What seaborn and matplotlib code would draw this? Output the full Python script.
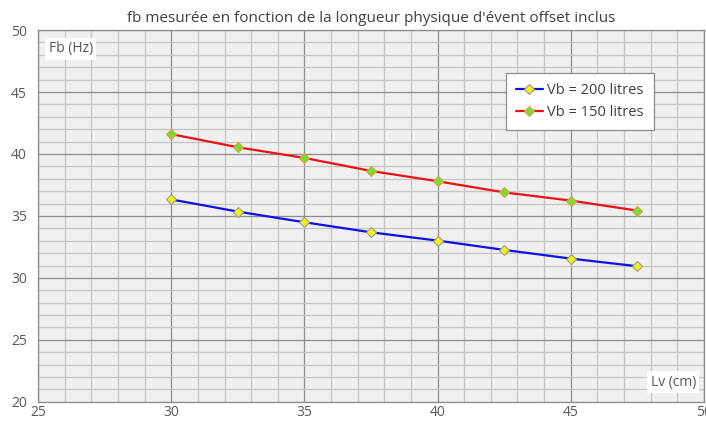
import matplotlib
matplotlib.use("Agg")
import matplotlib.pyplot as plt
from matplotlib.ticker import MultipleLocator
import seaborn as sns
import pandas as pd

# longueur d'évent (cm)
lv = [30, 32.5, 35, 37.5, 40, 42.5, 45, 47.5]
# fb mesurée (Hz)
fb_200 = [36.33, 35.35, 34.49, 33.68, 33.01, 32.26, 31.56, 30.94]
fb_150 = [41.6, 40.54, 39.68, 38.63, 37.8, 36.9, 36.24, 35.43]
labels = ["Vb = 200 litres", "Vb = 150 litres"]

sns.set_style("white")
plt.rcParams["font.family"] = ["Open Sans", "DejaVu Sans"]

fig = plt.figure(figsize=(7.06, 4.23), dpi=100)
ax = fig.add_axes([0.054, 0.05, 0.943, 0.879])
ax.set_facecolor("#f0f0f0")

df200 = pd.DataFrame({"lv": lv, "fb": fb_200})
df150 = pd.DataFrame({"lv": lv, "fb": fb_150})

sns.lineplot(data=df200, x="lv", y="fb", ax=ax, color="#1010e0", lw=1.6,
             marker="D", markersize=5.5, markerfacecolor="#f2f20a",
             markeredgecolor="#9a9a9a", markeredgewidth=0.8, label=labels[0], zorder=5)
sns.lineplot(data=df150, x="lv", y="fb", ax=ax, color="#ee1111", lw=1.6,
             marker="D", markersize=5.5, markerfacecolor="#77dd33",
             markeredgecolor="#e0a040", markeredgewidth=0.8, label=labels[1], zorder=5)

ax.set_xlim(25, 50)
ax.set_ylim(20, 50)
ax.xaxis.set_major_locator(MultipleLocator(5))
ax.xaxis.set_minor_locator(MultipleLocator(1))
ax.yaxis.set_major_locator(MultipleLocator(5))
ax.yaxis.set_minor_locator(MultipleLocator(1))
ax.grid(which="major", color="#8c8c8c", lw=0.9)
ax.grid(which="minor", color="#c4c4c4", lw=0.9)
ax.set_axisbelow(True)

ax.tick_params(which="both", length=0, labelsize=10, labelcolor="#595959")
ax.tick_params(axis="x", pad=2)
ax.tick_params(axis="y", pad=8)
ax.set_xlabel("")
ax.set_ylabel("")
for s in ax.spines.values():
    s.set_color("#8c8c8c")
    s.set_linewidth(0.9)

ax.set_title("fb mesurée en fonction de la longueur physique d'évent offset inclus",
             fontsize=11, color="#404040", pad=6)

ax.text(25.4, 48.5, "Fb (Hz)", fontsize=10, color="#595959", va="center",
        bbox=dict(facecolor="white", edgecolor="none", pad=2.5), zorder=6)
ax.text(48.0, 21.6, "Lv (cm)", fontsize=10, color="#595959", va="center",
        bbox=dict(facecolor="white", edgecolor="none", pad=2.5), zorder=6)

leg = ax.legend(loc="upper left", bbox_to_anchor=(0.692, 0.905), frameon=True,
                fancybox=False, fontsize=10.5, handlelength=1.8, handletextpad=0.3,
                borderpad=0.7, labelspacing=0.5, labelcolor="#404040")
leg.get_frame().set_edgecolor("#8c8c8c")
leg.get_frame().set_linewidth(0.9)
leg.get_frame().set_alpha(1)

fig.savefig("out.png", dpi=100)
